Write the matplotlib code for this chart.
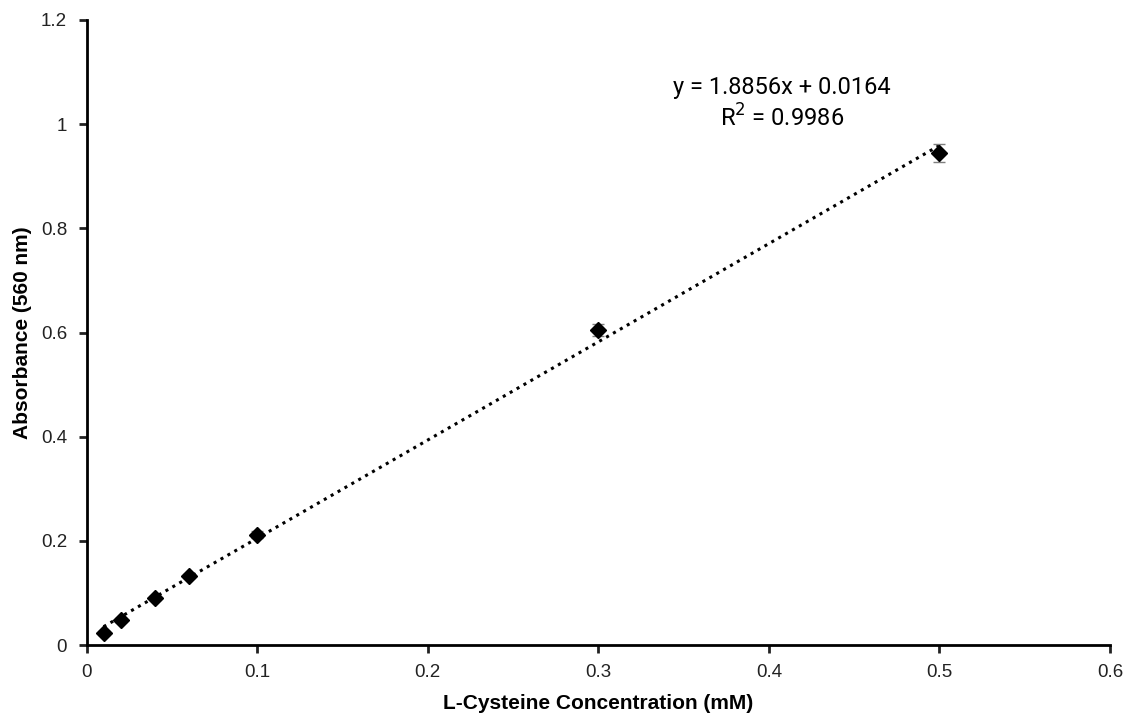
import matplotlib
matplotlib.use("Agg")
import matplotlib.pyplot as plt
import numpy as np

plt.rcParams['font.family'] = ['Liberation Sans', 'DejaVu Sans']

# Standard curve data
conc = [0.01, 0.02, 0.04, 0.06, 0.1, 0.3, 0.5]
absorb = [0.023, 0.048, 0.090, 0.133, 0.212, 0.605, 0.944]
err = [0.003, 0.003, 0.004, 0.004, 0.006, 0.012, 0.017]

slope = 1.8856
intercept = 0.0164
r2 = 0.9986

fig = plt.figure(figsize=(11.37, 7.22), dpi=100)
ax = fig.add_axes([0.0761, 0.1066, 0.9002, 0.8657])

ax.errorbar(conc, absorb, yerr=err, fmt='D', color='black', markersize=8.5,
            ecolor='#7f7f7f', elinewidth=1, capsize=4, capthick=1, zorder=3)

# Linear trendline across the measured range
xf = np.array([min(conc), max(conc)])
ax.plot(xf, slope * xf + intercept, linestyle=(0, (1, 1.6)), color='black',
        linewidth=2.2, zorder=2)

ax.text(0.4075, 1.039, f"y = {slope}x + {intercept}\nR$^2$ = {r2}", ha='center', va='center',
        fontsize=17, linespacing=1.27, family=['Roboto', 'DejaVu Sans'])

ax.set_xlim(0, 0.6)
ax.set_ylim(0, 1.2)
ax.set_xticks([0, 0.1, 0.2, 0.3, 0.4, 0.5, 0.6])
ax.set_xticklabels(['0', '0.1', '0.2', '0.3', '0.4', '0.5', '0.6'])
ax.set_yticks([0, 0.2, 0.4, 0.6, 0.8, 1.0, 1.2])
ax.set_yticklabels(['0', '0.2', '0.4', '0.6', '0.8', '1', '1.2'])

for s in ['top', 'right']:
    ax.spines[s].set_visible(False)
for s in ['left', 'bottom']:
    ax.spines[s].set_linewidth(2)
ax.tick_params(axis='both', direction='out', length=6, width=2, labelsize=13.5,
               colors='#222222', pad=8)

ax.set_xlabel('L-Cysteine Concentration (mM)', fontsize=15, fontweight='bold', va='center')
ax.set_ylabel('Absorbance (560 nm)', fontsize=15, fontweight='bold', va='center')
ax.xaxis.set_label_coords(0.4998, -0.093)
ax.yaxis.set_label_coords(-0.063, 0.5)

fig.savefig('out.png', dpi=100)
